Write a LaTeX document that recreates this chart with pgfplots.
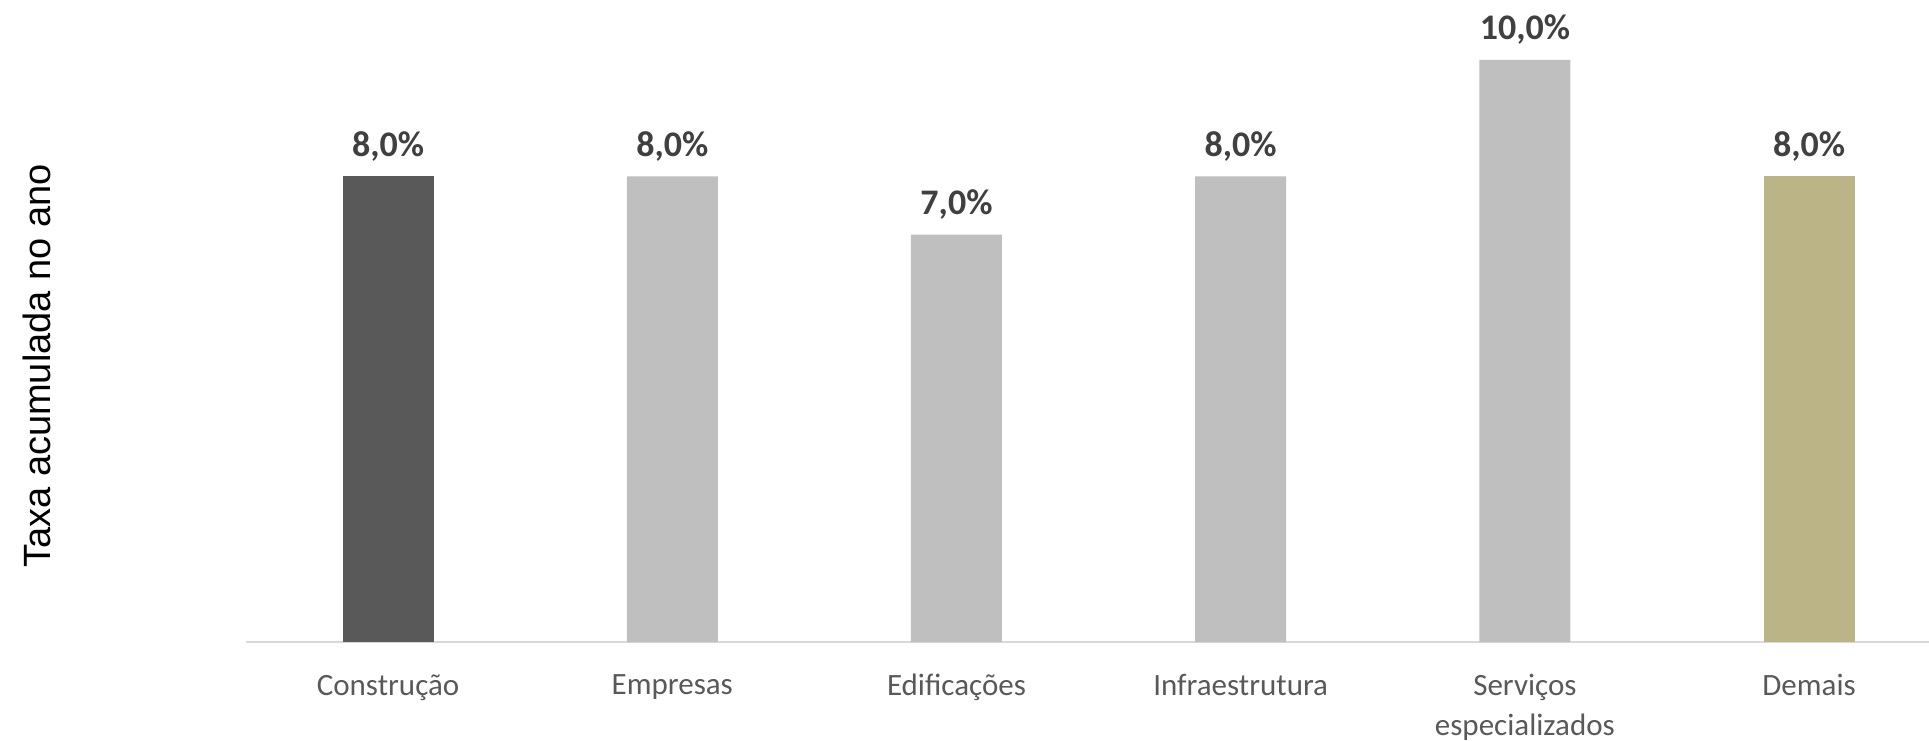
\documentclass[border=0pt]{standalone}
\usepackage{pgfplots}
\pgfplotsset{compat=1.18}
\usepackage{fontspec}
\setmainfont{Carlito}
\newfontfamily\labelfont{Liberation Sans}
\definecolor{darkbar}{RGB}{89,89,89}
\definecolor{lightbar}{RGB}{191,191,191}
\definecolor{tanbar}{RGB}{187,180,134}
\definecolor{labelgray}{RGB}{64,64,64}
\definecolor{tickgray}{RGB}{89,89,89}
\definecolor{axisgray}{RGB}{217,217,217}
\begin{document}
\begin{tikzpicture}
\begin{axis}[
  at={(0,0)}, anchor=south west,
  scale only axis, width=841.5pt, height=321pt,
  xmin=-0.5, xmax=5.422, ymin=0, ymax=11.03,
  ybar, bar width=45.5pt, bar shift=0pt,
  axis x line*=bottom, axis y line*=left,
  y axis line style={draw=none},
  x axis line style={axisgray, line width=1pt, -},
  ytick=\empty,
  xtick={0,...,5},
  xticklabels={Construção,Empresas,Edificações,Infraestrutura,{Serviços\\especializados},Demais},
  major tick length=0pt,
  xticklabel style={font=\fontsize{15.5}{19.7}\selectfont, text=tickgray, align=center, anchor=north, inner sep=0pt, yshift=-16pt},
  ylabel={\labelfont\fontsize{19}{22}\selectfont Taxa acumulada no ano},
  ylabel style={at={(axis description cs:-0.1242,0.43)}, anchor=center, rotate=0},
  /pgf/number format/assume math mode=true,
  nodes near coords={\pgfmathprintnumber[fixed,zerofill,precision=1,use comma]{\pgfplotspointmeta}\%},
  every node near coord/.append style={font=\bfseries\fontsize{18}{20}\selectfont, text=labelgray, anchor=base, inner sep=0pt, yshift=10pt},
  clip=false,
]
\addplot[fill=darkbar, draw=none] coordinates {(0,8.0)};
\addplot[fill=lightbar, draw=none] coordinates {(1,8.0) (2,7.0) (3,8.0) (4,10.0)};
\addplot[fill=tanbar, draw=none] coordinates {(5,8.0)};
\end{axis}
\pgfresetboundingbox
\path[use as bounding box] (-123pt,-49pt) rectangle (841.5pt,321pt);
\end{tikzpicture}
\end{document}
